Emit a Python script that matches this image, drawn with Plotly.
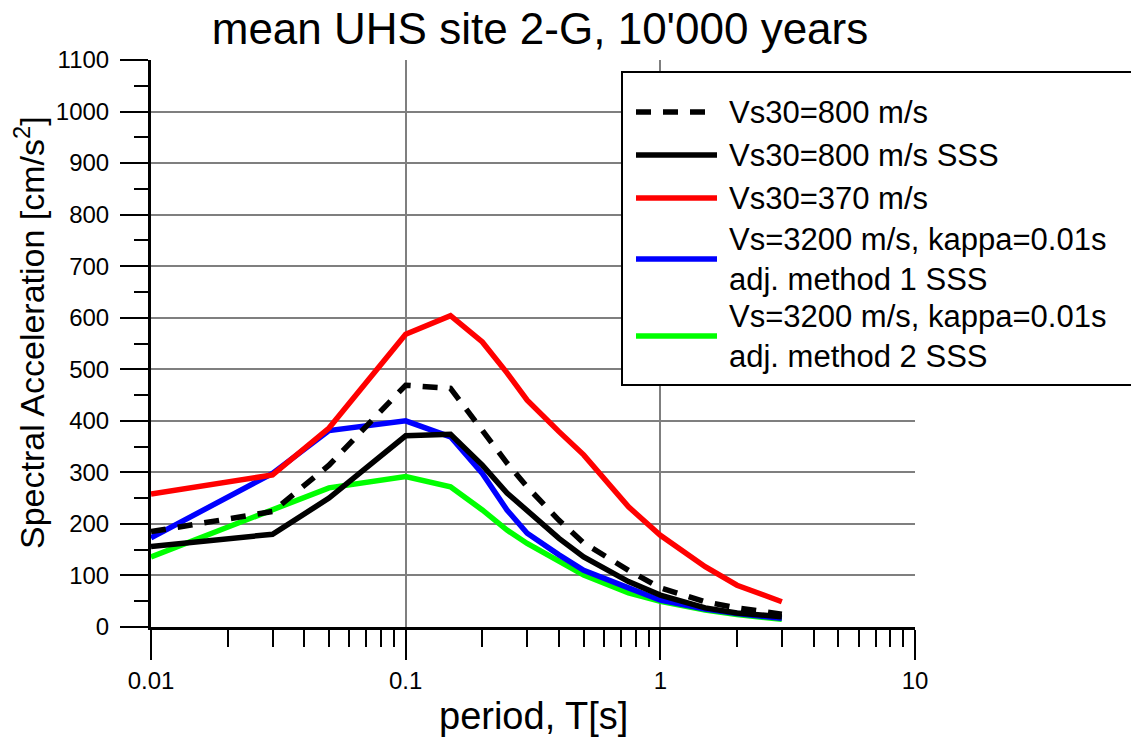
import plotly.graph_objects as go

# Spectral periods (s)
periods = [0.01, 0.03, 0.05, 0.1, 0.15, 0.2, 0.25, 0.3, 0.4, 0.5, 0.75, 1.0, 1.5, 2.0, 3.0]

# Mean uniform hazard spectra, spectral acceleration in cm/s^2
sa_vs800 = [185, 224, 314, 469, 463, 382, 318, 272, 207, 163, 110, 76, 49, 37, 25]
sa_vs800_sss = [156, 180, 250, 371, 374, 314, 260, 227, 172, 136, 88, 62, 37, 27, 20]
sa_vs370 = [258, 295, 386, 568, 604, 553, 493, 440, 379, 334, 233, 178, 117, 81, 49]
sa_adj1_sss = [173, 298, 381, 400, 369, 298, 227, 182, 140, 110, 76, 52, 35, 26, 17]
sa_adj2_sss = [136, 227, 270, 292, 272, 227, 188, 162, 127, 101, 66, 50, 33, 24, 15]

series_names = [
    "Vs30=800 m/s",
    "Vs30=800 m/s SSS",
    "Vs30=370 m/s",
    "Vs=3200 m/s, kappa=0.01s<br>adj. method 1 SSS",
    "Vs=3200 m/s, kappa=0.01s<br>adj. method 2 SSS",
]
series_values = [sa_vs800, sa_vs800_sss, sa_vs370, sa_adj1_sss, sa_adj2_sss]
series_colors = ["#000000", "#000000", "#ff0000", "#0000ff", "#00ff00"]
series_dash = ["15px,12px", "solid", "solid", "solid", "solid"]

x_tick_vals = [0.01, 0.1, 1, 10]
x_tick_text = ["0.01", "0.1", "1", "10"]

W, H = 1131, 740
ML, MR, MT, MB = 151, 216, 60, 113
FONT = "Liberation Sans, Arial, sans-serif"
LINE_W = 5.5


def px_x(p):
    return (p - ML) / (W - ML - MR)


def px_y(p):
    return (H - MB - p) / (H - MT - MB)


fig = go.Figure()

# Draw order: green, blue, red, solid black, dashed black on top
for i in [4, 3, 2, 1, 0]:
    fig.add_trace(go.Scatter(
        x=periods, y=series_values[i], mode="lines",
        name=series_names[i].replace("<br>", " "),
        line=dict(color=series_colors[i], width=LINE_W, dash=series_dash[i]),
        showlegend=False,
    ))

# Hand-built legend box
shapes = [dict(type="rect", xref="paper", yref="paper",
               x0=px_x(622), x1=px_x(1145), y0=px_y(385), y1=px_y(72),
               fillcolor="white", line=dict(color="black", width=2), layer="above")]
annotations = []
entry_y = [112, 155, 198, 259, 336]
for i, ey in enumerate(entry_y):
    shapes.append(dict(type="line", xref="paper", yref="paper",
                       x0=px_x(636), x1=px_x(717), y0=px_y(ey), y1=px_y(ey),
                       line=dict(color=series_colors[i], width=LINE_W, dash=series_dash[i]),
                       layer="above"))
    annotations.append(dict(text=series_names[i], xref="paper", yref="paper",
                            x=px_x(727), y=px_y(ey), xanchor="left", yanchor="middle",
                            align="left", showarrow=False,
                            font=dict(family=FONT, size=31, color="black")))

# Axis titles
annotations.append(dict(text="Spectral Acceleration [cm/s<sup>2</sup>]",
                        xref="paper", yref="paper", x=px_x(29), y=px_y(333),
                        xanchor="center", yanchor="middle", textangle=-90,
                        showarrow=False, font=dict(family=FONT, size=34, color="black")))
annotations.append(dict(text="period, T[s]", xref="paper", yref="paper",
                        x=px_x(533), y=px_y(716), xanchor="center", yanchor="middle",
                        showarrow=False, font=dict(family=FONT, size=38, color="black")))

fig.update_layout(
    width=W, height=H,
    margin=dict(l=ML, r=MR, t=MT, b=MB),
    paper_bgcolor="white", plot_bgcolor="white",
    title=dict(text="mean UHS site 2-G, 10'000 years", x=540 / W, xanchor="center",
               y=1 - 29 / H, yanchor="middle",
               font=dict(family=FONT, size=44, color="black")),
    shapes=shapes,
    annotations=annotations,
    showlegend=False,
)

fig.update_xaxes(
    type="log", range=[-2, 1],
    tickmode="array", tickvals=x_tick_vals, ticktext=x_tick_text,
    ticks="outside", ticklen=30, tickwidth=2, tickcolor="black",
    tickfont=dict(family=FONT, size=24, color="black"),
    showgrid=True, gridcolor="#7f7f7f", gridwidth=1.5,
    showline=True, linecolor="black", linewidth=3,
    zeroline=False,
    minor=dict(ticks="outside", ticklen=17, tickwidth=2, tickcolor="black",
               dtick="D1", showgrid=False),
)
fig.update_yaxes(
    range=[0, 1100], dtick=100, tick0=0,
    ticks="outside", ticklen=28, tickwidth=2, tickcolor="black",
    tickfont=dict(family=FONT, size=24, color="black"),
    ticklabelstandoff=6,
    showgrid=True, gridcolor="#7f7f7f", gridwidth=1.5,
    showline=True, linecolor="black", linewidth=3,
    zeroline=False,
    minor=dict(ticks="outside", ticklen=14, tickwidth=2, tickcolor="black",
               dtick=50, showgrid=False),
)

fig.write_html("out.html")
